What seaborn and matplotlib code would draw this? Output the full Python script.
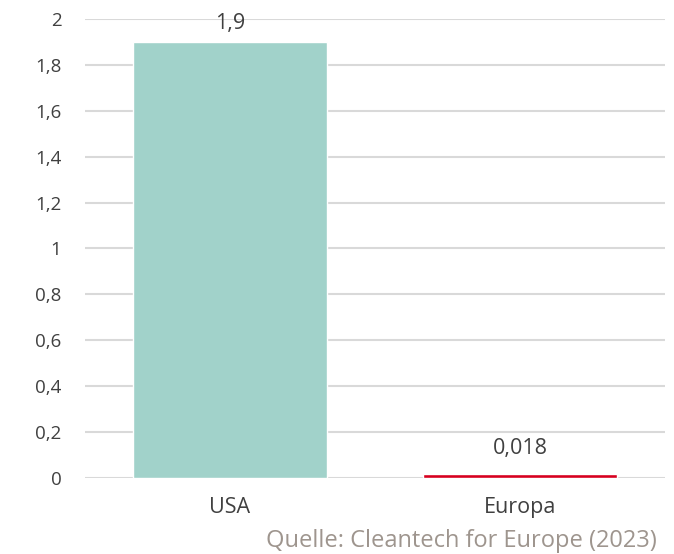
import matplotlib
matplotlib.use("Agg")
import matplotlib.pyplot as plt
from matplotlib.ticker import FuncFormatter, MultipleLocator
import seaborn as sns
import pandas as pd

# Data
regions = ["USA", "Europa"]
values = [1.9, 0.018]
value_labels = ["1,9", "0,018"]
bar_colors = ["#A1D2CA", "#D7001F"]
source = "Quelle: Cleantech for Europe (2023)"

sns.set_theme(style="white")
plt.rcParams["font.family"] = ["Open Sans", "DejaVu Sans"]

text_color = "#404040"
grid_color = "#D9D9D9"

df = pd.DataFrame({"region": regions, "value": values})

fig = plt.figure(figsize=(6.74, 5.54), dpi=100)
ax = fig.add_axes([85 / 674, 76 / 554, 580 / 674, 459 / 554])

sns.barplot(data=df, x="region", y="value", hue="region",
            palette=dict(zip(regions, bar_colors)), legend=False,
            width=0.67, saturation=1, ax=ax, zorder=3)

ax.set_ylim(0, 2)
ax.set_xlim(-0.5, 1.5)
ax.yaxis.set_major_locator(MultipleLocator(0.2))


def comma_fmt(v, _):
    if abs(v - round(v)) < 1e-9:
        return f"{int(round(v))}"
    return f"{v:.1f}".replace(".", ",")


ax.yaxis.set_major_formatter(FuncFormatter(comma_fmt))
ax.grid(axis="y", color=grid_color, linewidth=1.5, zorder=0)
ax.set_axisbelow(True)
for s in ax.spines.values():
    s.set_visible(False)

ax.set_xlabel("")
ax.set_ylabel("")
ax.tick_params(axis="y", length=0, pad=17, labelsize=13.5, labelcolor=text_color)
ax.tick_params(axis="x", length=0, pad=14, labelsize=15.5, labelcolor=text_color)

# Value labels above bars
for i, (v, lab) in enumerate(zip(values, value_labels)):
    ax.annotate(lab, xy=(i, v), xytext=(0, 6 if v > 1 else 11),
                textcoords="offset points", ha="center", va="bottom",
                fontsize=15.5, color=text_color, zorder=4)

fig.text(657 / 674, 1 - 541 / 554, source, ha="right", va="center",
         fontsize=17, color="#9E958E")

fig.savefig("out.png", dpi=100)
